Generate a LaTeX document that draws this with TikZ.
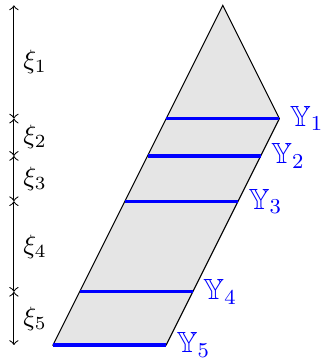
\documentclass[tikz,border=0pt]{standalone}
\usepackage{amssymb}
\tikzset{
  slice/.style={blue,very thick},
  sliceLabel/.style={right,blue,font=\fontsize{11}{13}\selectfont},
  gap/.style={<->},
}

\begin{document}
\begin{tikzpicture}[scale=0.75]
\useasboundingbox (-0.936,-0.265) rectangle (4.718,6.095);
% region
\filldraw[fill=gray!20,draw=black] (0,0) -- (2,0) -- (4,4) -- (3,6) -- cycle;
% slices
\draw[slice] (2.00,4.00) -- (4.00,4.00) node[sliceLabel] (y1) {$\mathbb{Y}_1$};
\draw[slice] (1.67,3.34) -- (3.67,3.34) node[sliceLabel] (y2) {$\mathbb{Y}_2$};
\draw[slice] (1.27,2.54) -- (3.27,2.54) node[sliceLabel] (y3) {$\mathbb{Y}_3$};
\draw[slice] (0.47,0.94) -- (2.47,0.94) node[sliceLabel] (y4) {$\mathbb{Y}_4$};
\draw[slice] (0.00,0.00) -- (2.00,0.00) node[sliceLabel] (y5) {$\mathbb{Y}_5$};
% axis
\coordinate (t0) at (-0.69,6.00);
\coordinate (t1) at (-0.69,4.00);
\coordinate (t2) at (-0.69,3.34);
\coordinate (t3) at (-0.69,2.54);
\coordinate (t4) at (-0.69,0.94);
\coordinate (t5) at (-0.69,0.00);
\draw[gap] (t0) -- node[right] (xi1) {$\xi_1$} (t1);
\draw[gap] (t1) -- node[right] (xi2) {$\xi_2$} (t2);
\draw[gap] (t2) -- node[right] (xi3) {$\xi_3$} (t3);
\draw[gap] (t3) -- node[right] (xi4) {$\xi_4$} (t4);
\draw[gap] (t4) -- node[right] (xi5) {$\xi_5$} (t5);
\end{tikzpicture}
\end{document}
